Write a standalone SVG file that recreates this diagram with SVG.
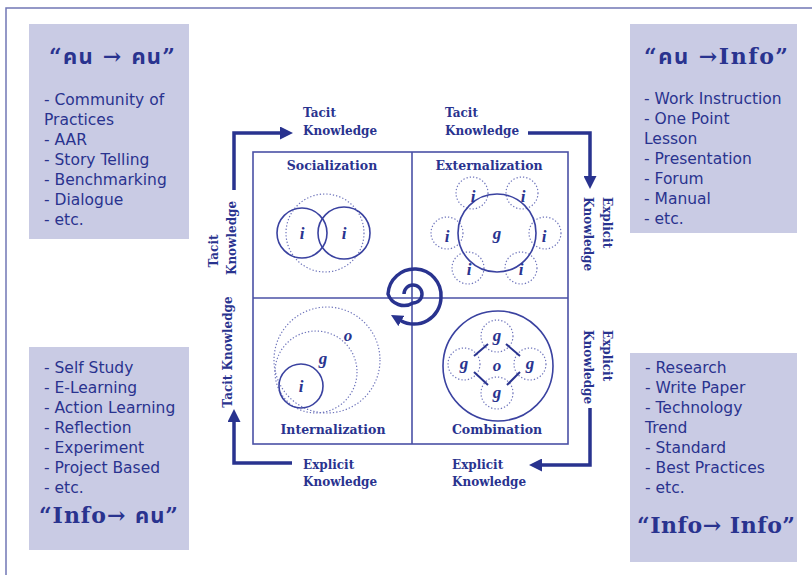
<svg xmlns="http://www.w3.org/2000/svg" width="812" height="575" viewBox="0 0 812 575">
<defs>
<style>
.item{font-family:"DejaVu Sans","Noto Sans",sans-serif;font-size:15.5px;fill:#29338f}
.title{font-family:"DejaVu Serif","Noto Sans Thai","Noto Sans",serif;font-weight:bold;font-size:22px;fill:#29338f}
.lbl{font-family:"DejaVu Serif","Liberation Serif",serif;font-weight:bold;font-size:12px;fill:#29338f}
.q{font-family:"DejaVu Serif","Liberation Serif",serif;font-weight:bold;font-size:12.5px;fill:#29338f;text-anchor:middle}
.let{font-family:"Liberation Serif",serif;font-weight:bold;font-style:italic;font-size:17px;fill:#29338f;text-anchor:middle}
.box{fill:#c9cbe4}
.grid{fill:none;stroke:#4a51a6;stroke-width:1.6}
.solid{fill:none;stroke:#3a42a0;stroke-width:1.6}
.dot{fill:none;stroke:#6e74bb;stroke-width:1.2;stroke-dasharray:1.3 2}
.conn{fill:none;stroke:#29338f;stroke-width:3.5}
</style>
<marker id="ah" markerUnits="userSpaceOnUse" markerWidth="13" markerHeight="13" viewBox="0 0 12 12" refX="0" refY="6" orient="auto">
<path d="M0,0 L12,6 L0,12 z" fill="#29338f"/>
</marker>
<marker id="ahs" markerUnits="userSpaceOnUse" markerWidth="12" markerHeight="12" viewBox="0 0 12 12" refX="1" refY="6" orient="auto">
<path d="M0,0 L12,6 L0,12 z" fill="#29338f"/>
</marker>
</defs>
<rect width="812" height="575" fill="#ffffff"/>
<path d="M6,575 V8 H812" fill="none" stroke="#7277b5" stroke-width="1.5"/>

<g id="box-tl">
<rect class="box" x="29" y="24" width="160" height="215"/>
<text class="title" x="49" y="64" textLength="126" lengthAdjust="spacing">“คน → คน”</text>
<text class="item" x="44" y="105">- Community of</text>
<text class="item" x="44" y="125">Practices</text>
<text class="item" x="44" y="145">- AAR</text>
<text class="item" x="44" y="165">- Story Telling</text>
<text class="item" x="44" y="185">- Benchmarking</text>
<text class="item" x="44" y="205">- Dialogue</text>
<text class="item" x="44" y="225">- etc.</text>
</g>

<g id="box-tr">
<rect class="box" x="630" y="24" width="167" height="209"/>
<text class="title" x="644" y="64" textLength="144" lengthAdjust="spacing">“คน →Info”</text>
<text class="item" x="644" y="104">- Work Instruction</text>
<text class="item" x="644" y="124">- One Point</text>
<text class="item" x="644" y="144">Lesson</text>
<text class="item" x="644" y="164">- Presentation</text>
<text class="item" x="644" y="184">- Forum</text>
<text class="item" x="644" y="204">- Manual</text>
<text class="item" x="644" y="224">- etc.</text>
</g>

<g id="box-bl">
<rect class="box" x="29" y="347" width="160" height="203"/>
<text class="item" x="44" y="373">- Self Study</text>
<text class="item" x="44" y="393">- E-Learning</text>
<text class="item" x="44" y="413">- Action Learning</text>
<text class="item" x="44" y="433">- Reflection</text>
<text class="item" x="44" y="453">- Experiment</text>
<text class="item" x="44" y="473">- Project Based</text>
<text class="item" x="44" y="493">- etc.</text>
<text class="title" x="39" y="523" textLength="139" lengthAdjust="spacing">“Info→ คน”</text>
</g>

<g id="box-br">
<rect class="box" x="630" y="353" width="167" height="209"/>
<text class="item" x="645" y="373">- Research</text>
<text class="item" x="645" y="393">- Write Paper</text>
<text class="item" x="645" y="413">- Technology</text>
<text class="item" x="645" y="433">Trend</text>
<text class="item" x="645" y="453">- Standard</text>
<text class="item" x="645" y="473">- Best Practices</text>
<text class="item" x="645" y="493">- etc.</text>
<text class="title" x="637" y="533" textLength="158" lengthAdjust="spacing">“Info→ Info”</text>
</g>

<g id="grid">
<rect class="grid" x="253" y="152" width="315" height="292"/>
<line class="grid" x1="412" y1="152" x2="412" y2="444"/>
<line class="grid" x1="253" y1="298" x2="568" y2="298"/>
</g>

<g id="socialization">
<text class="q" x="332" y="170">Socialization</text>
<circle class="dot" cx="325" cy="233" r="39"/>
<circle class="solid" cx="302" cy="233" r="25"/>
<circle class="solid" cx="344" cy="233" r="26"/>
<text class="let" x="302" y="239">i</text>
<text class="let" x="344" y="239">i</text>
</g>

<g id="externalization">
<text class="q" x="489" y="170">Externalization</text>
<circle class="dot" cx="472" cy="193" r="16"/>
<circle class="dot" cx="522" cy="193" r="16"/>
<circle class="dot" cx="447" cy="233" r="16"/>
<circle class="dot" cx="545" cy="233" r="16"/>
<circle class="dot" cx="468" cy="268" r="16"/>
<circle class="dot" cx="521" cy="268" r="16"/>
<circle class="solid" cx="497" cy="233" r="39"/>
<text class="let" x="497" y="239">g</text>
<text class="let" x="473" y="202">i</text>
<text class="let" x="523" y="202">i</text>
<text class="let" x="447" y="242">i</text>
<text class="let" x="544" y="242">i</text>
<text class="let" x="469" y="275">i</text>
<text class="let" x="521" y="275">i</text>
</g>

<g id="internalization">
<circle class="dot" cx="327" cy="360" r="53"/>
<circle class="dot" cx="316" cy="372" r="41"/>
<circle class="solid" cx="301" cy="386" r="22"/>
<text class="let" x="348" y="341">o</text>
<text class="let" x="323" y="364">g</text>
<text class="let" x="301" y="392">i</text>
<text class="q" x="333" y="434">Internalization</text>
</g>

<g id="combination">
<circle class="solid" cx="498" cy="366" r="55"/>
<circle class="dot" cx="497" cy="336" r="16"/>
<circle class="dot" cx="464" cy="364" r="16"/>
<circle class="dot" cx="530" cy="364" r="16"/>
<circle class="dot" cx="497" cy="393" r="16"/>
<g stroke="#29338f" stroke-width="2">
<line x1="488" y1="344" x2="474" y2="356"/>
<line x1="506" y1="344" x2="520" y2="356"/>
<line x1="474" y1="372" x2="488" y2="385"/>
<line x1="520" y1="372" x2="507" y2="385"/>
</g>
<text class="let" x="497" y="341">g</text>
<text class="let" x="464" y="369">g</text>
<text class="let" x="530" y="369">g</text>
<text class="let" x="497" y="398">g</text>
<text class="let" x="497" y="371">o</text>
<text class="q" x="497" y="434">Combination</text>
</g>

<g id="connectors">
<path class="conn" d="M234,190 V133 H280" marker-end="url(#ah)"/>
<path class="conn" d="M528,133 H590 V176" marker-end="url(#ah)"/>
<path class="conn" d="M590,408 V465 H542" marker-end="url(#ah)"/>
<path class="conn" d="M292,463 H234 V422" marker-end="url(#ah)"/>
<path class="conn" d="M404,294 A9,9 0 1 1 413,303 A17,17 0 0 1 388,294 A26.5,26.5 0 0 1 441,297 A27,27 0 0 1 400.5,320.4" marker-end="url(#ahs)"/>
</g>

<g id="labels">
<text class="lbl" x="303" y="117">Tacit</text>
<text class="lbl" x="303" y="135">Knowledge</text>
<text class="lbl" x="445" y="117">Tacit</text>
<text class="lbl" x="445" y="135">Knowledge</text>
<text class="lbl" x="303" y="469">Explicit</text>
<text class="lbl" x="303" y="486">Knowledge</text>
<text class="lbl" x="452" y="469">Explicit</text>
<text class="lbl" x="452" y="486">Knowledge</text>
<text class="lbl" transform="translate(218,251) rotate(-90)" text-anchor="middle">Tacit</text>
<text class="lbl" transform="translate(236,238) rotate(-90)" text-anchor="middle">Knowledge</text>
<text class="lbl" transform="translate(232,352) rotate(-90)" text-anchor="middle">Tacit Knowledge</text>
<text class="lbl" transform="translate(603,197) rotate(90)">Explicit</text>
<text class="lbl" transform="translate(584,197) rotate(90)">Knowledge</text>
<text class="lbl" transform="translate(603,330) rotate(90)">Explicit</text>
<text class="lbl" transform="translate(584,330) rotate(90)">Knowledge</text>
</g>
</svg>
